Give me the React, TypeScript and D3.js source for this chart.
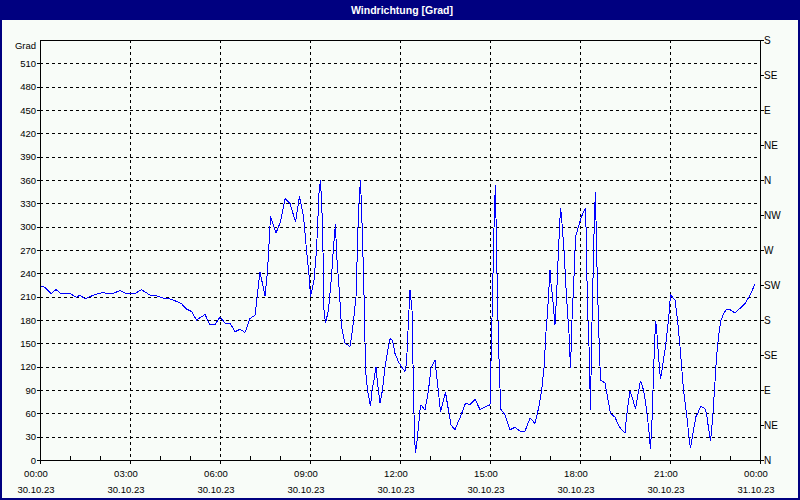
import React from "react";
import * as d3 from "d3";

// time in minutes since 30.10.23 00:00
const minutes = [
  0, 10, 22, 32, 42, 60, 73, 80, 90, 107, 123, 146, 160, 173, 190, 203, 220, 233, 247, 260,
  273, 283, 293, 303, 313, 330, 340, 350, 360, 370, 380, 390, 400, 410, 420, 430, 440, 450, 455, 461,
  472, 481, 490, 500, 511, 519, 527, 533, 539, 541, 548, 553, 558, 561, 565, 568, 571, 577, 583, 587,
  591, 593, 599, 603, 610, 620, 625, 632, 637, 641, 645, 649, 651, 655, 661, 664, 668, 672, 675, 680,
  685, 690, 695, 700, 705, 710, 717, 723, 730, 733, 737, 740, 744, 747, 749, 751, 755, 760, 762, 770,
  777, 782, 790, 795, 801, 807, 811, 818, 822, 830, 841, 851, 860, 870, 880, 893, 900, 901, 903, 905,
  907, 909, 911, 913, 915, 917, 920, 922, 930, 940, 950, 960, 970, 980, 990, 998, 1003, 1008, 1012, 1015,
  1020, 1022, 1025, 1030, 1033, 1037, 1041, 1043, 1048, 1053, 1058, 1061, 1064, 1068, 1071, 1077, 1083, 1091, 1092, 1095,
  1098, 1101, 1103, 1107, 1109, 1111, 1113, 1117, 1121, 1130, 1135, 1141, 1150, 1157, 1163, 1170, 1173, 1180, 1185, 1191,
  1197, 1201, 1207, 1211, 1217, 1221, 1224, 1228, 1231, 1233, 1237, 1241, 1245, 1251, 1257, 1261, 1270, 1275, 1280, 1287,
  1293, 1298, 1301, 1307, 1312, 1317, 1321, 1330, 1333, 1337, 1341, 1345, 1349, 1353, 1358, 1362, 1368, 1372, 1381, 1390,
  1400, 1411, 1420, 1430,
];

// wind direction in degrees
const direction = [
  224, 222, 214, 219, 214, 214, 209, 212, 207, 212, 215, 214, 218, 214, 214, 219, 212, 211, 208, 207,
  204, 201, 194, 191, 180, 187, 174, 174, 184, 176, 176, 165, 168, 164, 182, 186, 242, 211, 242, 313,
  292, 306, 336, 330, 306, 339, 313, 270, 231, 210, 231, 270, 343, 360, 304, 193, 176, 193, 236, 274,
  304, 266, 214, 171, 150, 146, 167, 210, 321, 360, 287, 189, 116, 90, 69, 90, 103, 120, 99, 73,
  90, 120, 139, 156, 154, 137, 126, 120, 114, 124, 180, 219, 193, 90, 30, 9, 30, 64, 71, 64,
  90, 118, 128, 99, 62, 77, 87, 60, 45, 39, 56, 73, 71, 78, 65, 69, 71, 99, 154, 210,
  270, 326, 354, 270, 210, 150, 92, 65, 58, 39, 42, 37, 37, 54, 47, 69, 88, 118, 165, 189,
  244, 227, 210, 174, 210, 270, 324, 313, 270, 210, 163, 118, 180, 236, 287, 300, 313, 324, 300, 197,
  146, 64, 150, 261, 317, 345, 274, 176, 103, 99, 81, 60, 55, 45, 39, 35, 56, 89, 79, 66,
  88, 102, 90, 75, 43, 14, 51, 129, 178, 171, 133, 104, 120, 146, 180, 212, 206, 180, 146, 90,
  60, 30, 15, 39, 56, 62, 69, 66, 60, 41, 24, 51, 90, 133, 163, 180, 189, 193, 193, 189,
  195, 202, 212, 226,
];

const leftTicks = [0, 30, 60, 90, 120, 150, 180, 210, 240, 270, 300, 330, 360, 390, 420, 450, 480, 510];
const rightTickValues = [0, 45, 90, 135, 180, 225, 270, 315, 360, 405, 450, 495, 540];
const rightTickLabels = ["N", "NE", "E", "SE", "S", "SW", "W", "NW", "N", "NE", "E", "SE", "S"];
const xTickHours = [0, 3, 6, 9, 12, 15, 18, 21, 24];
const xTimeLabels = ["00:00", "03:00", "06:00", "09:00", "12:00", "15:00", "18:00", "21:00", "00:00"];
const xDateLabels = ["30.10.23", "30.10.23", "30.10.23", "30.10.23", "30.10.23", "30.10.23", "30.10.23", "30.10.23", "31.10.23"];
const title = "Windrichtung [Grad]";
const yUnit = "Grad";

export default function App() {
  const W = 800;
  const H = 500;
  const L = 40, R = 760, T = 40, B = 460;
  const x = d3.scaleLinear().domain([0, 1440]).range([L, R]);
  const y = d3.scaleLinear().domain([0, 540]).range([B, T]);
  const data = minutes.map((m, i) => [m, direction[i]] as [number, number]);
  const line = d3.line<[number, number]>().x((d) => x(d[0])).y((d) => y(d[1]));
  const font = "'Liberation Sans', Arial, sans-serif";
  const hours = d3.range(0, 25);
  const navy = "#000080";

  return (
    <svg width={W} height={H} style={{ position: "absolute", left: 0, top: 0, display: "block" }} fontFamily={font}>
      <rect x={0} y={0} width={W} height={H} fill={navy} />
      <rect x={2} y={20} width={W - 4} height={H - 22} fill="#f8fcf8" />
      <text x={W / 2 + 2} y={14} fill="#ffffff" fontWeight="bold" fontSize={10.5} textAnchor="middle">{title}</text>

      {/* horizontal grid */}
      {leftTicks.filter((v) => v > 0).map((v) => (
        <line key={"hg" + v} x1={L} x2={R} y1={Math.round(y(v)) + 0.5} y2={Math.round(y(v)) + 0.5}
          stroke="#000" strokeDasharray="3,3" shapeRendering="crispEdges" />
      ))}
      {/* vertical grid */}
      {xTickHours.filter((h) => h > 0 && h < 24).map((h) => (
        <line key={"vg" + h} x1={Math.round(x(h * 60)) + 0.5} x2={Math.round(x(h * 60)) + 0.5} y1={T} y2={B}
          stroke="#000" strokeDasharray="3,3" shapeRendering="crispEdges" />
      ))}

      {/* data line */}
      <path d={line(data) || ""} fill="none" stroke="#0000ff" strokeWidth={1} shapeRendering="crispEdges" />

      {/* frame */}
      <rect x={L + 0.5} y={T + 0.5} width={R - L} height={B - T} fill="none" stroke="#000" shapeRendering="crispEdges" />

      {/* left ticks and labels */}
      {leftTicks.map((v) => (
        <g key={"lt" + v}>
          <line x1={L - 3} x2={L} y1={Math.round(y(v)) + 0.5} y2={Math.round(y(v)) + 0.5} stroke="#000" shapeRendering="crispEdges" />
          <text x={36} y={y(v) + 3.5} fontSize={9.5} textAnchor="end" fill="#000">{v}</text>
        </g>
      ))}
      <text x={36} y={48.5} fontSize={9.5} textAnchor="end" fill="#000">{yUnit}</text>

      {/* right ticks and labels */}
      {rightTickValues.map((v, i) => (
        <g key={"rt" + v}>
          <line x1={R} x2={R + 4} y1={Math.round(y(v)) + 0.5} y2={Math.round(y(v)) + 0.5} stroke="#000" shapeRendering="crispEdges" />
          <text x={764} y={y(v) + 4} fontSize={10} textAnchor="start" fill="#000">{rightTickLabels[i]}</text>
        </g>
      ))}

      {/* bottom ticks */}
      {hours.map((h) => (
        h % 3 === 0 ? (
          <line key={"bt" + h} x1={Math.round(x(h * 60)) + 0.5} x2={Math.round(x(h * 60)) + 0.5} y1={B} y2={B + 4}
            stroke="#000" shapeRendering="crispEdges" />
        ) : (
          <line key={"bt" + h} x1={Math.round(x(h * 60)) + 0.5} x2={Math.round(x(h * 60)) + 0.5} y1={B - 4} y2={B}
            stroke="#000" shapeRendering="crispEdges" />
        )
      ))}
      {xTickHours.map((h, i) => (
        <g key={"xl" + h}>
          <text x={x(h * 60) - 4} y={477} fontSize={9.5} textAnchor="middle" fill="#000">{xTimeLabels[i]}</text>
          <text x={x(h * 60) - 4} y={493} fontSize={9.5} textAnchor="middle" fill="#000">{xDateLabels[i]}</text>
        </g>
      ))}
    </svg>
  );
}
